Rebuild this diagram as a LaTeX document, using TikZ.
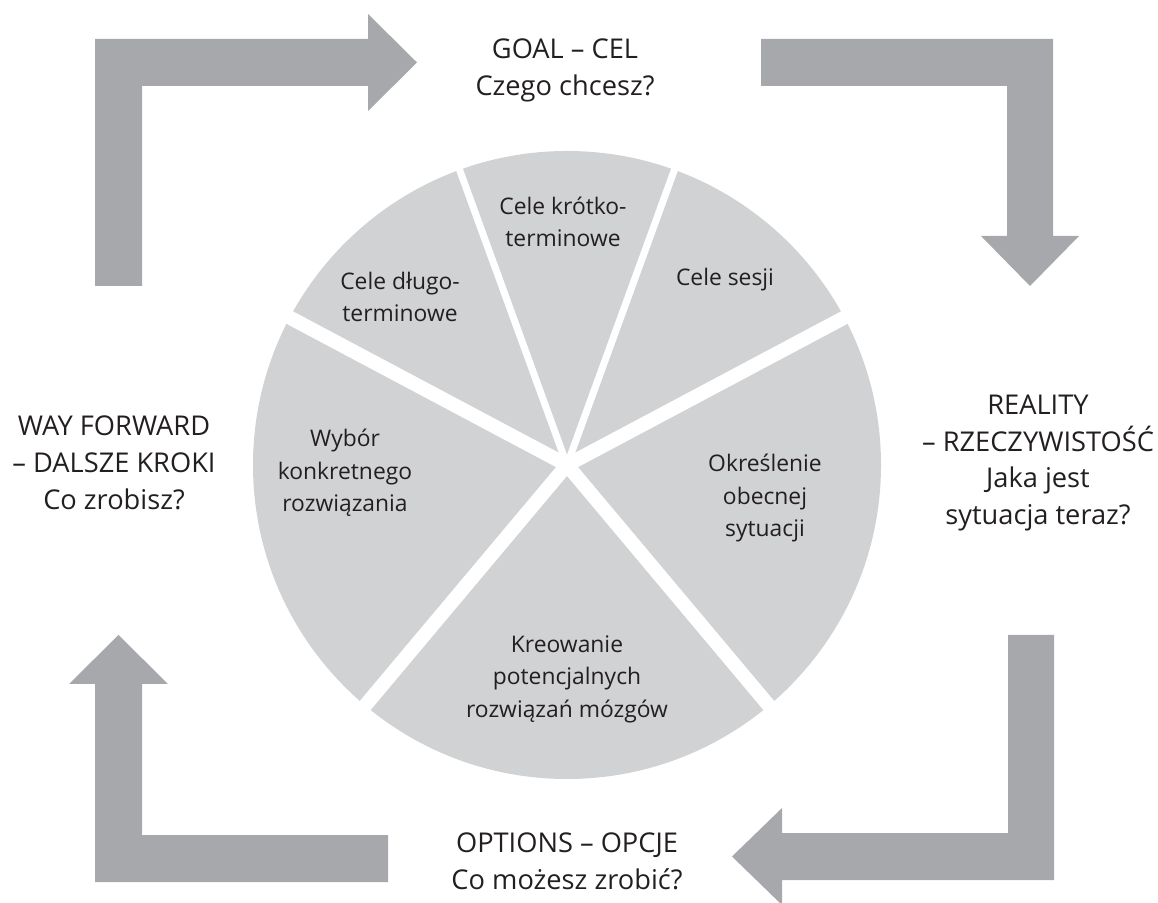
\documentclass[tikz,border=0pt]{standalone}
\usepackage{fontspec}
\setmainfont{Open Sans}
\usetikzlibrary{positioning}
\definecolor{arrowgray}{HTML}{A7A8AB}
\definecolor{piegray}{HTML}{D1D2D4}
\definecolor{textblack}{HTML}{231F20}

\begin{document}
\begin{tikzpicture}
	[x=0.02cm, y=0.02cm,
	stage/.style={align=center, text=textblack, font=\fontsize{15.5}{21}\selectfont},
	slice/.style={align=center, text=textblack, font=\fontsize{13}{18.5}\selectfont},
	gap/.style={draw=white, line width=8pt},
	thin gap/.style={draw=white, line width=4pt},
	blockarrow/.style={fill=arrowgray}]
	\useasboundingbox (0,0) rectangle (1158,902);
	%\begin{scope}
	% big arrows round the wheel
	\fill[blockarrow] (95,616) -- (95,863) -- (368,863) -- (368,888) -- (417,839.5) -- (368,791) -- (368,816) -- (142,816) -- (142,616) -- cycle;
	\fill[blockarrow] (761,863) -- (1053,863) -- (1053,666) -- (1079,666) -- (1030,616) -- (981,666) -- (1007,666) -- (1007,816) -- (761,816) -- cycle;
	\fill[blockarrow] (1054,267) -- (1054,22) -- (782,22) -- (782,-3) -- (732,45.5) -- (782,94) -- (782,69) -- (1008,69) -- (1008,267) -- cycle;
	\fill[blockarrow] (388,20) -- (95,20) -- (95,218) -- (69,218) -- (118.5,267) -- (168,218) -- (142,218) -- (142,67) -- (388,67) -- cycle;
	% wheel
	\coordinate (c) at (567,437);
	\fill[piegray] (c) circle (314);
	\draw[gap] (c) -- ++(28:340);
	\draw[thin gap] (c) -- ++(70:340);
	\draw[thin gap] (c) -- ++(110:340);
	\draw[gap] (c) -- ++(152:340);
	\draw[gap] (c) -- ++(230:340);
	\draw[gap] (c) -- ++(310:340);
	% slice labels
	\node (short) [slice] at (563,680) {Cele krótko-\\terminowe};
	\node (long) [slice] at (400,605) {Cele długo-\\terminowe};
	\node (session) [slice] at (725,622) {Cele sesji};
	\node (choice) [slice] at (345,429) {Wybór\\konkretnego\\rozwiązania};
	\node (now) [slice] at (765,404) {Określenie\\obecnej\\sytuacji};
	\node (ideas) [slice] at (567,223) {Kreowanie\\potencjalnych\\rozwiązań mózgów};
	% stage labels
	\node (goal) [stage] at (565,832) {GOAL – CEL\\Czego chcesz?};
	\node (reality) [stage] at (1038,439) {REALITY\\– RZECZYWISTOŚĆ\\Jaka jest\\sytuacja teraz?};
	\node (options) [stage] at (567,41) {OPTIONS – OPCJE\\Co możesz zrobić?};
	\node (way) [stage] at (114,439) {WAY FORWARD\\– DALSZE KROKI\\Co zrobisz?};
\end{tikzpicture}
\end{document}
